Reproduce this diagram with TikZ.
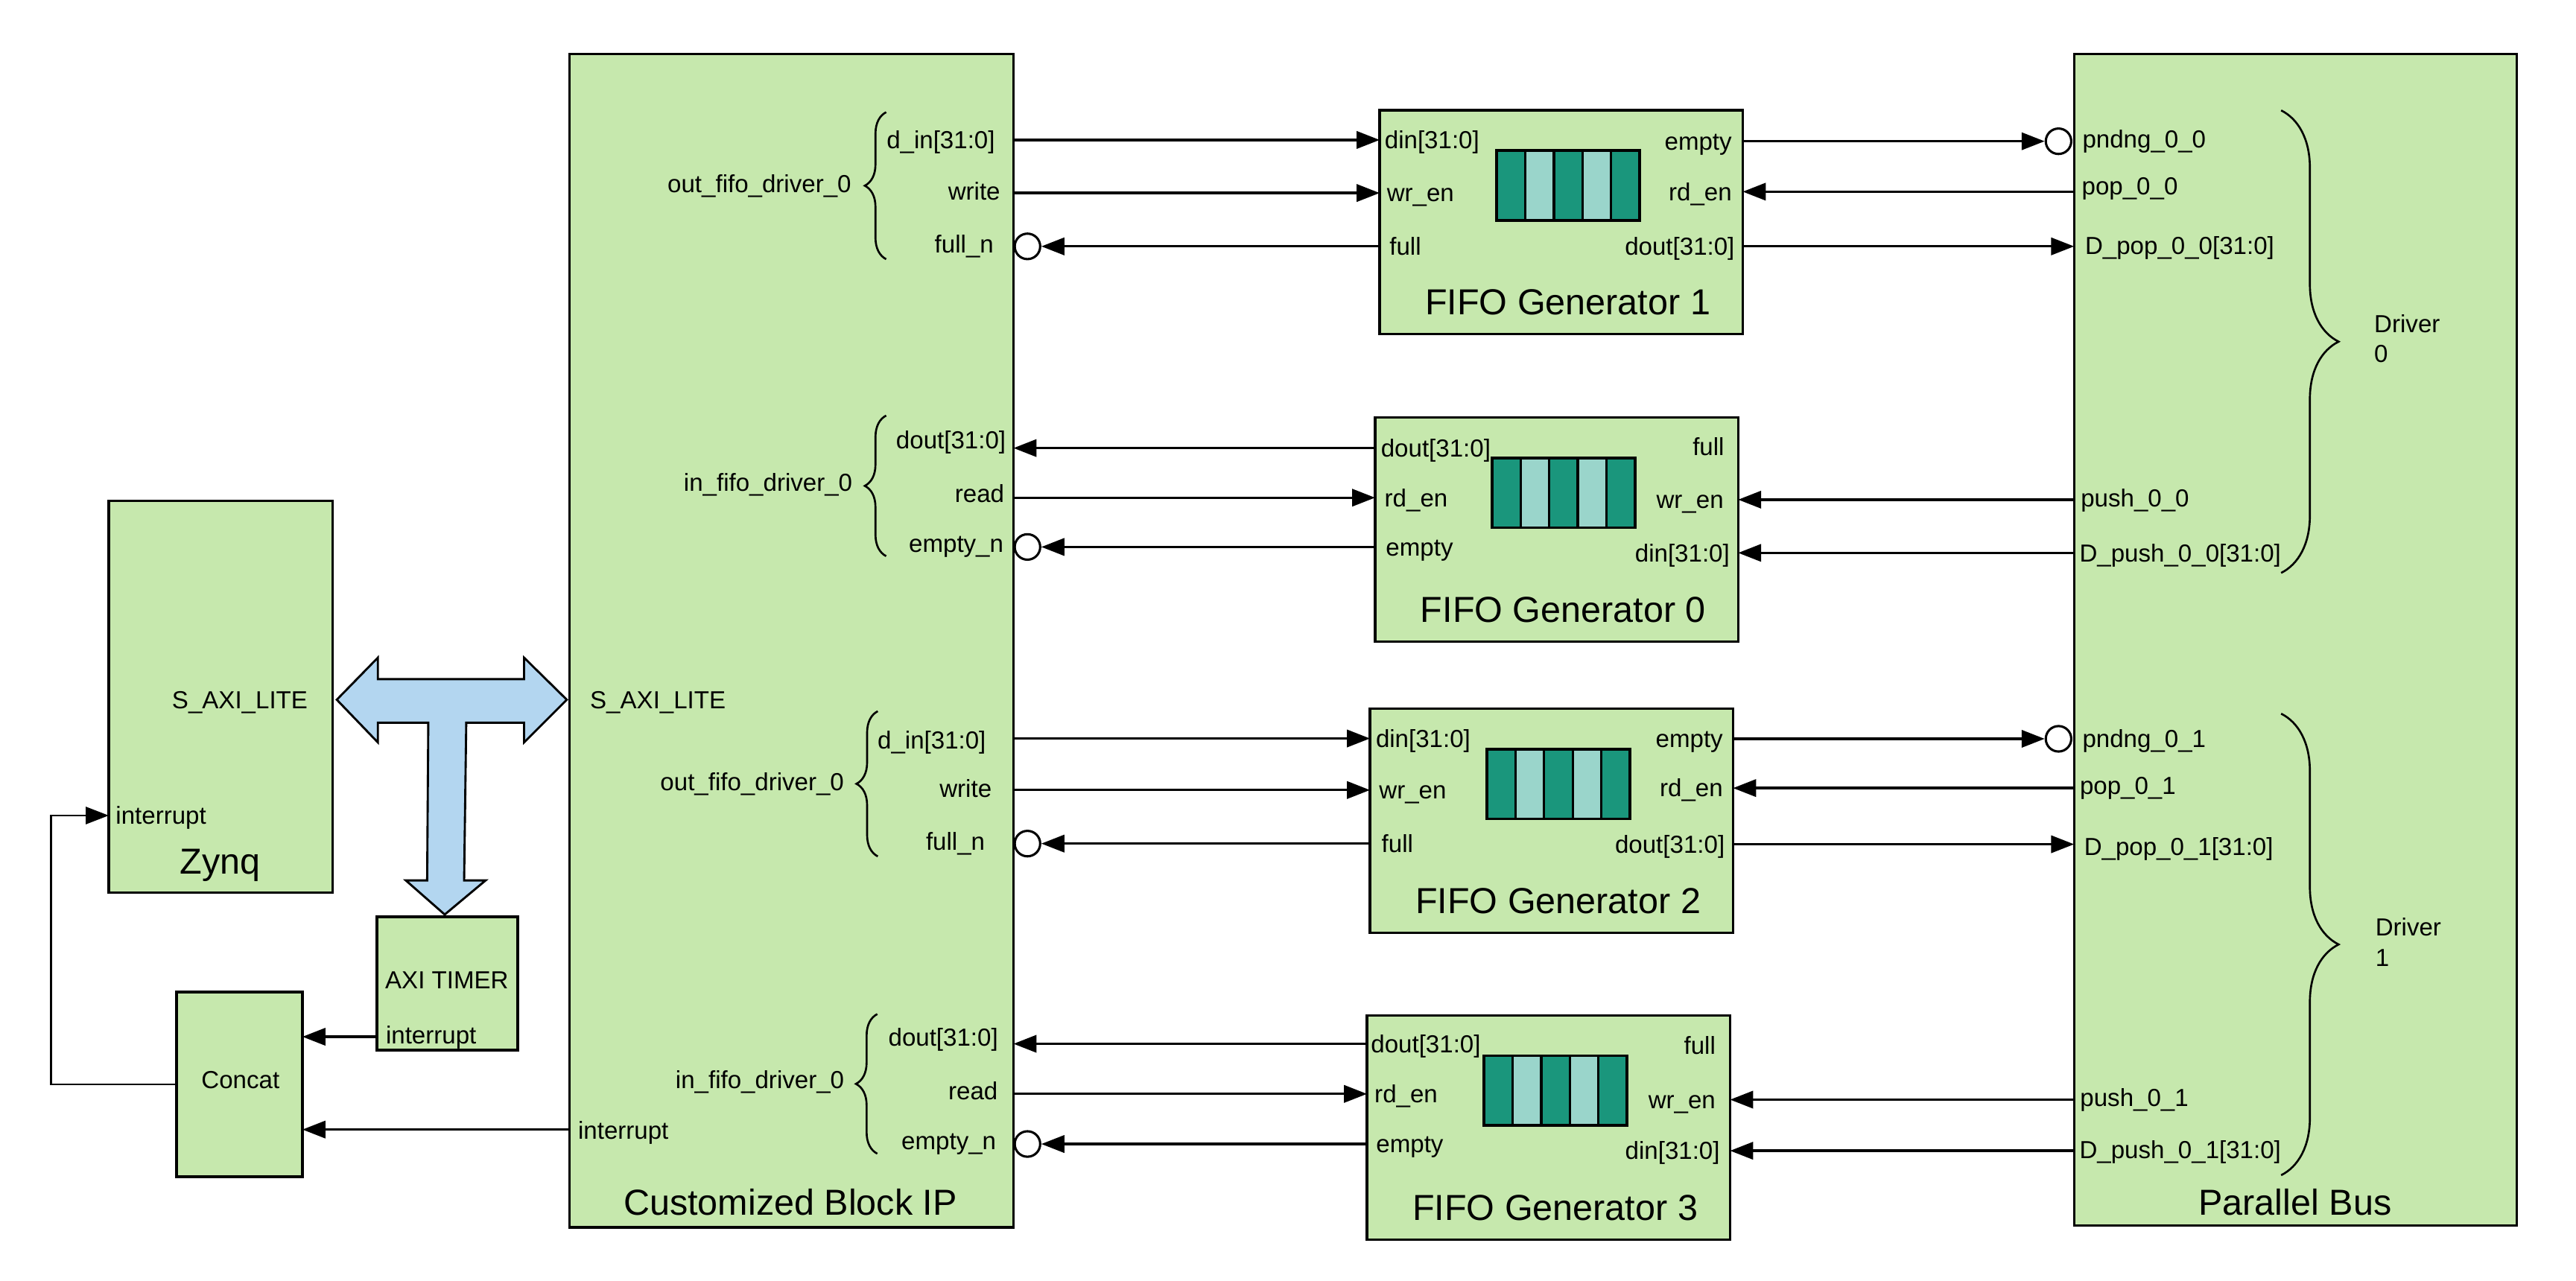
\documentclass[tikz,border=0pt]{standalone}
\usepackage{fontspec}
\setmainfont{Liberation Sans}
\usetikzlibrary{arrows.meta,decorations.pathreplacing,calc}
\definecolor{boxgreen}{HTML}{C6E8AD}
\definecolor{tealdark}{HTML}{1A967C}
\definecolor{teallight}{HTML}{9AD5CB}
\definecolor{busblue}{HTML}{B3D6F0}
\newcommand\fifoicon[1]{%
  \begin{scope}[shift={($(#1.north west)+(71.2,24.5)$)}]
    \fill[tealdark] (0,0) rectangle (87,42.6);
    \fill[teallight] (17.4,0) rectangle (34.8,42.6);
    \fill[teallight] (52.2,0) rectangle (69.6,42.6);
    \draw[line width=1.5pt] (17.4,0) -- (17.4,42.6) (34.8,0) -- (34.8,42.6)
       (52.2,0) -- (52.2,42.6) (69.6,0) -- (69.6,42.6);
    \draw[line width=1.7pt] (0,0) rectangle (87,42.6);
  \end{scope}}
\begin{document}
\begin{tikzpicture}[x=1pt,y=-1pt,
  blk/.style={draw, line width=1.5pt, fill=boxgreen, inner sep=0pt, outer sep=0pt, anchor=north west},
  port/.style={inner sep=0pt, font=\fontsize{15}{18}\selectfont, text height=10.7pt, text depth=0pt},
  ttl/.style={inner sep=0pt, font=\fontsize{22}{26}\selectfont, text height=15.8pt, text depth=0pt},
  sig/.style={line width=1.5pt, -{Triangle[length=14pt,width=10.5pt]}},
  bubble/.style={circle, draw, line width=1.4pt, fill=white, minimum size=15.5pt, inner sep=0pt},
  lbrace/.style={decorate, decoration={brace, amplitude=13pt}, line width=1.2pt},
  rbrace/.style={decorate, decoration={brace, amplitude=35pt}, line width=1.2pt},
  fbox/.style={blk, minimum width=221pt, minimum height=136.4pt}
]
\fill[white] (0,0) rectangle (1568,779.47);
\useasboundingbox (0,0) rectangle (1568,779.47);

% ---------- blocks ----------
\node[blk, minimum width=270.2pt, minimum height=714.3pt] (ip) at (346.7,33) {};
\node[blk, minimum width=269.5pt, minimum height=713pt] (pb) at (1262.5,33) {};
\node[blk, minimum width=136.4pt, minimum height=238.5pt] (zynq) at (66.2,305) {};
\node[blk, minimum width=85.7pt, minimum height=81.1pt] (timer) at (229.4,558.2) {};
\node[blk, minimum width=76.6pt, minimum height=112.4pt] (concat) at (107.5,604) {};
\node[fbox] (f1) at (839.8,67.1) {};
\node[fbox] (f0) at (837.0,254.2) {};
\node[fbox] (f2) at (833.9,431.5) {};
\node[fbox] (f3) at (832.1,618.2) {};

\fifoicon{f1}
\fifoicon{f0}
\fifoicon{f2}
\fifoicon{f3}

% ---------- titles ----------
\node[ttl] (ipt) at (481.1,732) {Customized Block IP};
\node[ttl] (pbt) at (1397,732) {Parallel Bus};
\node[ttl] (zt) at (134,524) {Zynq};
\node[ttl] (f1t) at ($(f1.north west)+(114.5,116.7)$) {FIFO Generator 1};
\node[ttl] (f0t) at ($(f0.north west)+(114.5,116.7)$) {FIFO Generator 0};
\node[ttl] (f2t) at ($(f2.north west)+(114.5,116.7)$) {FIFO Generator 2};
\node[ttl] (f3t) at ($(f3.north west)+(114.5,116.7)$) {FIFO Generator 3};

% ---------- Zynq / timer / concat labels ----------
\node[port] (zs) at (146,426) {S\_AXI\_LITE};
\node[port, anchor=west] (zi) at (70.3,496.5) {interrupt};
\node[port] (tt) at (272,596.8) {AXI TIMER};
\node[port, anchor=west] (ti) at (234.7,630) {interrupt};
\node[port] (ct) at (146.4,657.5) {Concat};

% ---------- Customized Block IP labels ----------
\node[port, anchor=west] (ips) at (359,426) {S\_AXI\_LITE};
\node[port, anchor=west] (ipi) at (351.7,688) {interrupt};
\node[port, anchor=east] (g1) at (518.3,111.8) {out\_fifo\_driver\_0};
\node[port, anchor=east] (g2) at (519,293.8) {in\_fifo\_driver\_0};
\node[port, anchor=east] (g3) at (513.9,476.1) {out\_fifo\_driver\_0};
\node[port, anchor=east] (g4) at (514,657.5) {in\_fifo\_driver\_0};
\node[port, anchor=east] (ia1) at (605.8,85.3) {d\_in[31:0]};
\node[port, anchor=east] (ia2) at (609,116.4) {write};
\node[port, anchor=east] (ia3) at (605,148.8) {full\_n};
\node[port, anchor=east] (ib1) at (612.4,268) {dout[31:0]};
\node[port, anchor=east] (ib2) at (611.5,300.6) {read};
\node[port, anchor=east] (ib3) at (611,331) {empty\_n};
\node[port, anchor=east] (ic1) at (600.3,450.4) {d\_in[31:0]};
\node[port, anchor=east] (ic2) at (603.8,479.9) {write};
\node[port, anchor=east] (ic3) at (599.7,512.4) {full\_n};
\node[port, anchor=east] (id1) at (607.7,631.7) {dout[31:0]};
\node[port, anchor=east] (id2) at (607.5,664.3) {read};
\node[port, anchor=east] (id3) at (606.5,694.5) {empty\_n};
\draw[lbrace] (539.4,157.8) -- (539.4,68.3);
\draw[lbrace] (539.4,338.6) -- (539.4,253);
\draw[lbrace] (534.3,521.4) -- (534.3,433);
\draw[lbrace] (534,702.4) -- (534,617.4);

% ---------- FIFO port labels ----------
\node[port, anchor=west] (f1L1) at (842.7,85.2) {din[31:0]};
\node[port, anchor=west] (f1L2) at (844,117.5) {wr\_en};
\node[port, anchor=west] (f1L3) at (845.6,150) {full};
\node[port, anchor=east] (f1R1) at (1054.3,86) {empty};
\node[port, anchor=east] (f1R2) at (1054.3,116.7) {rd\_en};
\node[port, anchor=east] (f1R3) at (1056,150) {dout[31:0]};

\node[port, anchor=west] (f0L1) at (840.4,272.8) {dout[31:0]};
\node[port, anchor=west] (f0L2) at (842.6,303) {rd\_en};
\node[port, anchor=west] (f0L3) at (843.4,333) {empty};
\node[port, anchor=east] (f0R1) at (1049.7,272) {full};
\node[port, anchor=east] (f0R2) at (1049.3,304.2) {wr\_en};
\node[port, anchor=east] (f0R3) at (1053,336.6) {din[31:0]};

\node[port, anchor=west] (f2L1) at (837.3,449.6) {din[31:0]};
\node[port, anchor=west] (f2L2) at (839.3,481) {wr\_en};
\node[port, anchor=west] (f2L3) at (840.8,513.6) {full};
\node[port, anchor=east] (f2R1) at (1048.9,449.6) {empty};
\node[port, anchor=east] (f2R2) at (1048.9,479.8) {rd\_en};
\node[port, anchor=east] (f2R3) at (1050,514) {dout[31:0]};

\node[port, anchor=west] (f3L1) at (834.3,635.5) {dout[31:0]};
\node[port, anchor=west] (f3L2) at (836.5,666) {rd\_en};
\node[port, anchor=west] (f3L3) at (837.5,696.5) {empty};
\node[port, anchor=east] (f3R1) at (1044.4,636.3) {full};
\node[port, anchor=east] (f3R2) at (1044.4,669.5) {wr\_en};
\node[port, anchor=east] (f3R3) at (1047,700.6) {din[31:0]};

% ---------- Parallel Bus labels ----------
\node[port, anchor=west] (p1) at (1267.4,84.8) {pndng\_0\_0};
\node[port, anchor=west] (p2) at (1267,113.4) {pop\_0\_0};
\node[port, anchor=west] (p3) at (1269,149.7) {D\_pop\_0\_0[31:0]};
\node[port, anchor=west] (p4) at (1266.4,303.2) {push\_0\_0};
\node[port, anchor=west] (p5) at (1265.6,336.6) {D\_push\_0\_0[31:0]};
\node[port, anchor=west] (q1) at (1267.4,449.6) {pndng\_0\_1};
\node[port, anchor=west] (q2) at (1265.8,478.4) {pop\_0\_1};
\node[port, anchor=west] (q3) at (1268.4,515.4) {D\_pop\_0\_1[31:0]};
\node[port, anchor=west] (q4) at (1266,668) {push\_0\_1};
\node[port, anchor=west] (q5) at (1265.6,700) {D\_push\_0\_1[31:0]};
\draw[rbrace] (1388.5,67.2) -- (1388.5,348.8);
\draw[rbrace] (1388.5,434.5) -- (1388.5,715.5);
\node[port, anchor=west] (d0a) at (1445,197) {Driver};
\node[port, anchor=west] (d0b) at (1445,215.3) {0};
\node[port, anchor=west] (d1a) at (1445.7,564.5) {Driver};
\node[port, anchor=west] (d1b) at (1445.7,583) {1};

% ---------- bubbles ----------
\node[bubble] (c1) at (625.4,150) {};
\node[bubble] (c2) at (625.4,333) {};
\node[bubble] (c3) at (625.4,513.6) {};
\node[bubble] (c4) at (625.4,696.5) {};
\node[bubble] (b1) at (1253,86) {};
\node[bubble] (b2) at (1253,449.8) {};

% ---------- AXI bus arrow ----------
\draw[fill=busblue, line width=1.3pt, line join=miter]
  (205,426) -- (230,400.4) -- (230,413.5) -- (319,413.5) -- (319,400.4) -- (345,426)
  -- (319,452) -- (319,440) -- (283.8,440) -- (282.5,536) -- (295.6,536) -- (270.7,556.8)
  -- (247,536) -- (260,536) -- (260.7,440) -- (230,440) -- (230,452) -- cycle;

% ---------- connectors: FIFO 1 ----------
\draw[sig] (ip.east |- f1L1) -- (f1.west |- f1L1);
\draw[sig] (ip.east |- f1L2) -- (f1.west |- f1L2);
\draw[sig] (f1.west |- c1) -- (c1.east);
\draw[sig] (f1.east |- b1) -- (b1.west);
\draw[sig] (pb.west |- f1R2) -- (f1.east |- f1R2);
\draw[sig] (f1.east |- f1R3) -- (pb.west |- f1R3);
% FIFO 0
\draw[sig] (f0.west |- f0L1) -- (ip.east |- f0L1);
\draw[sig] (ip.east |- f0L2) -- (f0.west |- f0L2);
\draw[sig] (f0.west |- c2) -- (c2.east);
\draw[sig] (pb.west |- f0R2) -- (f0.east |- f0R2);
\draw[sig] (pb.west |- f0R3) -- (f0.east |- f0R3);
% FIFO 2
\draw[sig] (ip.east |- f2L1) -- (f2.west |- f2L1);
\draw[sig] (ip.east |- f2L2) -- (f2.west |- f2L2);
\draw[sig] (f2.west |- c3) -- (c3.east);
\draw[sig] (f2.east |- b2) -- (b2.west);
\draw[sig] (pb.west |- f2R2) -- (f2.east |- f2R2);
\draw[sig] (f2.east |- f2R3) -- (pb.west |- f2R3);
% FIFO 3
\draw[sig] (f3.west |- f3L1) -- (ip.east |- f3L1);
\draw[sig] (ip.east |- f3L2) -- (f3.west |- f3L2);
\draw[sig] (f3.west |- c4) -- (c4.east);
\draw[sig] (pb.west |- f3R2) -- (f3.east |- f3R2);
\draw[sig] (pb.west |- f3R3) -- (f3.east |- f3R3);

% ---------- interrupts ----------
\coordinate (lp) at (31,496.5);
\draw[sig] (ip.west |- 0,687.7) -- (concat.east |- 0,687.7);
\draw[sig] (timer.west |- 0,631.2) -- (concat.east |- 0,631.2);
\draw[sig, line width=1.1pt] (concat.west) -| (lp) -- (zynq.west |- lp);
\end{tikzpicture}
\end{document}
